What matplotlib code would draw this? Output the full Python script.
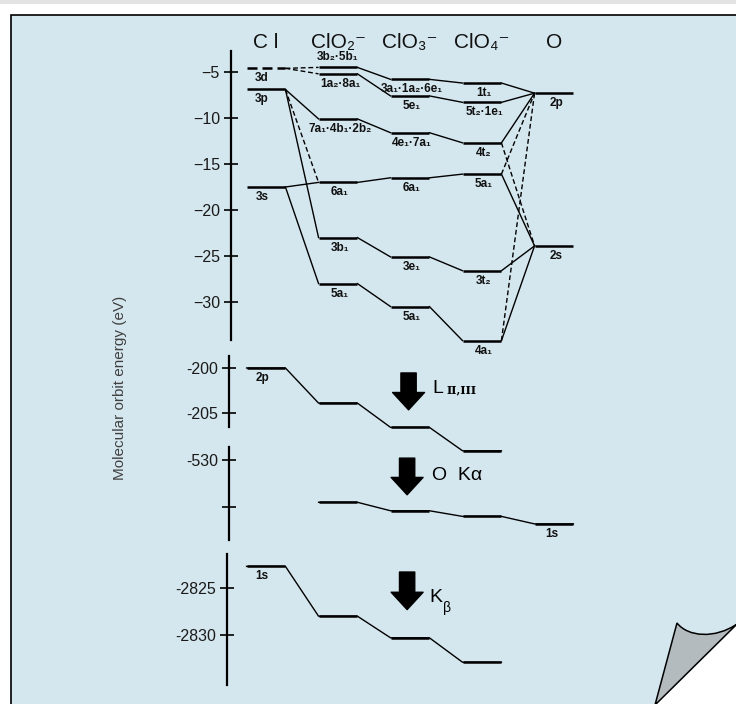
import matplotlib
matplotlib.use('Agg')
import matplotlib.pyplot as plt
from matplotlib.patches import Rectangle, Polygon, PathPatch
from matplotlib.path import Path

plt.rcParams['font.family'] = ['Liberation Sans', 'DejaVu Sans']

# column headers
species = ['C l', 'ClO₂⁻', 'ClO₃⁻', 'ClO₄⁻', 'O']

# valence levels (eV) per column
cl_E = [-4.6, -6.9, -17.5]
cl_lab = ['3d', '3p', '3s']
clo2_E = [-4.5, -5.2, -10.1, -17.0, -23.0, -28.0]
clo2_lab = ['3b₂·5b₁', '1a₂·8a₁', '7a₁·4b₁·2b₂', '6a₁', '3b₁', '5a₁']
clo3_E = [-5.8, -7.6, -11.6, -16.5, -25.1, -30.5]
clo3_lab = ['3a₁·1a₂·6e₁', '5e₁', '4e₁·7a₁', '6a₁', '3e₁', '5a₁']
clo4_E = [-6.2, -8.3, -12.7, -16.1, -26.6, -34.2]
clo4_lab = ['1t₁', '5t₂·1e₁', '4t₂', '5a₁', '3t₂', '4a₁']
o_E = [-7.3, -23.9]
o_lab = ['2p', '2s']

# correlation lines: (column, level, column, level, dashed)
links = [
    (0, 0, 1, 0, 1), (0, 0, 1, 1, 1),
    (0, 1, 1, 2, 0), (0, 1, 1, 3, 1), (0, 1, 1, 4, 0),
    (0, 2, 1, 3, 0), (0, 2, 1, 5, 0),
    (1, 0, 2, 0, 0), (1, 1, 2, 1, 0), (1, 2, 2, 2, 0),
    (1, 3, 2, 3, 0), (1, 4, 2, 4, 0), (1, 5, 2, 5, 0),
    (2, 0, 3, 0, 0), (2, 1, 3, 1, 0), (2, 2, 3, 2, 0),
    (2, 3, 3, 3, 0), (2, 4, 3, 4, 0), (2, 5, 3, 5, 0),
    (3, 0, 4, 0, 0), (3, 1, 4, 0, 0), (3, 2, 4, 0, 0), (3, 2, 4, 1, 1),
    (3, 3, 4, 0, 1), (3, 3, 4, 1, 0), (3, 4, 4, 1, 0),
    (3, 5, 4, 0, 1), (3, 5, 4, 1, 0),
]

# core levels
cl2p_cols = [0, 1, 2, 3]
cl2p_E = [-200.0, -203.9, -206.6, -209.2]
o1s_cols = [1, 2, 3, 4]
o1s_E = [-534.5, -535.4, -536.0, -536.8]
cl1s_cols = [0, 1, 2, 3]
cl1s_E = [-2822.7, -2828.0, -2830.3, -2832.9]

up_ticks = [-5, -10, -15, -20, -25, -30]
l_ticks = [-200, -205]
ka_ticks = [-530, -535]
kb_ticks = [-2825, -2830]

W, H = 736, 704
fig = plt.figure(figsize=(W / 100, H / 100), dpi=100)
fig.patch.set_facecolor('white')

# page background, frame and curl
deco = fig.add_axes([0, 0, 1, 1], zorder=0)
deco.set_xlim(0, W)
deco.set_ylim(H, 0)
deco.axis('off')
deco.add_patch(Rectangle((0, 0), W, 4, fc='#e3e3e3', ec='none'))
deco.add_patch(Rectangle((11, 15), W, H, fc='#d5e7ee', ec='black', lw=1.2))
deco.add_patch(Polygon([(655, H + 2), (W + 2, H + 2), (W + 2, 624)], fc='white', ec='none'))
curl = Path([(655, H + 1), (677, 623), (688, 637), (715, 639), (W + 1, 624), (655, H + 1)],
            [Path.MOVETO, Path.LINETO, Path.CURVE4, Path.CURVE4, Path.CURVE4, Path.LINETO])
deco.add_patch(PathPatch(curl, fc='#b3bbbf', ec='black', lw=1.1))

col0, dcol = 266, 72
xlim = (-col0 / dcol, (W - col0) / dcol)
half = 0.27


def panel(ref_E, ref_px, px_per_eV, bounds, ticks, labels, spine_px):
    ax = fig.add_axes([0, 0, 1, 1], zorder=1)
    ax.patch.set_alpha(0)
    ax.set_xlim(*xlim)
    ax.set_ylim(ref_E - (H - ref_px) / px_per_eV, ref_E + ref_px / px_per_eV)
    for s in ['top', 'right', 'bottom']:
        ax.spines[s].set_visible(False)
    ax.spines['left'].set_position(('data', (spine_px - col0) / dcol))
    ax.spines['left'].set_bounds(*bounds)
    ax.spines['left'].set_linewidth(1.6)
    ax.set_xticks([])
    ax.set_yticks(ticks, labels)
    ax.tick_params(axis='y', direction='inout', length=10, width=1.2, pad=3,
                   labelsize=11.5, labelcolor='#1a1a1a')
    return ax


def level(ax, c, E, dashed=False):
    ax.plot([c - half, c + half], [E, E], color='black', lw=1.8,
            ls=(0, (4, 2)) if dashed else '-', solid_capstyle='butt')


def tag(ax, c, E, text, dx=0, dy=-10):
    ax.annotate(text, (c, E), xytext=(dx, dy), textcoords='offset pixels',
                ha='center', va='center', fontsize=8.5, fontweight='bold', color='#111111')


def big_arrow(ax, c, E_tail, E_tip):
    ax.annotate('', xy=(c, E_tip), xytext=(c, E_tail),
                arrowprops=dict(arrowstyle='simple,head_length=1.25,head_width=2.3,tail_width=1.1',
                                mutation_scale=10, fc='black', ec='black', shrinkA=0, shrinkB=0))


# valence panel
up = panel(-5, 72, 9.2, (-2.7, -34.1), up_ticks, ['−5', '−10', '−15', '−20', '−25', '−30'], 231)
cols_E = [cl_E, clo2_E, clo3_E, clo4_E, o_E]
cols_lab = [cl_lab, clo2_lab, clo3_lab, clo4_lab, o_lab]

for c1, i1, c2, i2, d in links:
    up.plot([c1 + half, c2 - half], [cols_E[c1][i1], cols_E[c2][i2]], color='black',
            lw=1.0, ls=(0, (3.5, 2)) if d else '-')

for c, (Es, labs) in enumerate(zip(cols_E, cols_lab)):
    for E, lab in zip(Es, labs):
        level(up, c, E, dashed=(c == 0 and lab == '3d'))
        if lab == '3b₂·5b₁':
            tag(up, c, E, lab, dy=10)
        else:
            tag(up, c, E, lab, dx=-4 if c == 0 else 2)

for c, name in enumerate(species):
    up.text(c, -1.75, name, ha='center', va='center', fontsize=15, color='#111111')

# Cl 2p panel
lp = panel(-200, 368, 9.0, (-198.7, -206.6), l_ticks, ['-200', '-205'], 229)
lp.plot([c + s for c in cl2p_cols for s in (-half, half)],
        [E for E in cl2p_E for _ in (0, 1)], color='black', lw=1.0)
for c, E in zip(cl2p_cols, cl2p_E):
    level(lp, c, E)
tag(lp, cl2p_cols[0], cl2p_E[0], '2p', dx=-4)
big_arrow(lp, 1.98, -200.55, -204.65)
lp.text(2.31, -202.8, 'L', fontsize=14, va='baseline', ha='left')
lp.text(2.51, -202.8, 'II,III', fontsize=8, va='baseline', ha='left',
        family='DejaVu Serif', fontweight='bold')

# O 1s panel
kp = panel(-530, 460, 9.4, (-528.6, -538.5), ka_ticks, ['-530', ''], 229)
kp.plot([c + s for c in o1s_cols for s in (-half, half)],
        [E for E in o1s_E for _ in (0, 1)], color='black', lw=1.0)
for c, E in zip(o1s_cols, o1s_E):
    level(kp, c, E)
tag(kp, o1s_cols[-1], o1s_E[-1], '1s', dx=-2)
big_arrow(kp, 1.96, -529.8, -533.7)
kp.text(2.31, -531.7, 'O  Kα', fontsize=14, va='center', ha='left')

# Cl 1s panel
bp = panel(-2825, 588, 9.4, (-2821.4, -2835.3), kb_ticks, ['-2825', '-2830'], 227)
bp.plot([c + s for c in cl1s_cols for s in (-half, half)],
        [E for E in cl1s_E for _ in (0, 1)], color='black', lw=1.0)
for c, E in zip(cl1s_cols, cl1s_E):
    level(bp, c, E)
tag(bp, cl1s_cols[0], cl1s_E[0], '1s', dx=-4)
big_arrow(bp, 1.96, -2823.3, -2827.3)
bp.text(2.27, -2826.5, 'K', fontsize=14, va='baseline', ha='left')
bp.text(2.46, -2827.6, 'β', fontsize=10, va='baseline', ha='left')

fig.text(120 / W, 1 - 388 / H, 'Molecular orbit energy (eV)', rotation=90,
         ha='center', va='center', fontsize=11, color='#404040')

fig.savefig('out.png', dpi=100)
